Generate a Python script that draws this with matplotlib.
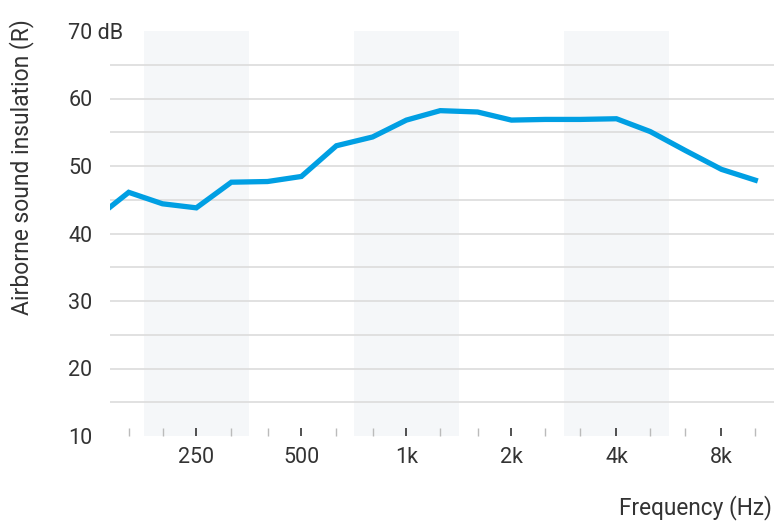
import numpy as np
import matplotlib
matplotlib.use("Agg")
import matplotlib.pyplot as plt

plt.rcParams['font.family'] = ['Roboto', 'DejaVu Sans']

# third-octave band centre frequencies (Hz) and measured insulation R (dB)
freqs = [125, 160, 200, 250, 315, 400, 500, 630, 800, 1000, 1250, 1600,
         2000, 2500, 3150, 4000, 5000, 6300, 8000, 10000]
r_db = [41.7, 46.1, 44.4, 43.8, 47.6, 47.7, 48.45, 53.0, 54.3, 56.8, 58.2, 58.0,
        56.8, 56.9, 56.9, 57.0, 55.1, 52.3, 49.5, 47.9]

octave_ticks = [250, 500, 1000, 2000, 4000, 8000]
octave_labels = ["250", "500", "1k", "2k", "4k", "8k"]
shaded_centres = [250, 1000, 4000]

y_ticks = [10, 20, 30, 40, 50, 60, 70]
y_labels = ["10", "20", "30", "40", "50", "60", "70 dB"]

text_col = "#333333"
blue = "#009FE3"
fs = 15.5

fig = plt.figure(figsize=(7.75, 5.22), dpi=100)
ax = fig.add_axes([110 / 775, 1 - 436 / 522, 664 / 775, 405 / 522])

ax.set_xscale("log")
ax.set_xlim(100 * np.sqrt(2), 8000 * np.sqrt(2))
ax.set_ylim(10, 70)

# alternating octave shading
for c in shaded_centres:
    ax.axvspan(c / np.sqrt(2), c * np.sqrt(2), color="#F5F7F9", zorder=0, lw=0)

# horizontal grid every 5 dB (not at the limits)
for g in range(15, 70, 5):
    ax.axhline(g, color="#DCDCDC", lw=1.2, zorder=1)

ax.plot(freqs, r_db, color=blue, lw=3.8, zorder=3, solid_joinstyle="miter")

for s in ax.spines.values():
    s.set_visible(False)

ax.set_xticks(octave_ticks)
ax.set_xticklabels(octave_labels)
minor = [f for f in freqs[1:] if f not in octave_ticks]
ax.set_xticks(minor, minor=True)
ax.xaxis.set_minor_formatter(matplotlib.ticker.NullFormatter())
ax.tick_params(axis="x", which="major", direction="in", length=6, width=1.2,
               color="#333333", labelsize=fs, labelcolor=text_col, pad=8)
ax.tick_params(axis="x", which="minor", direction="in", length=6, width=1,
               color="#BBBBBB")

ax.set_yticks(y_ticks)
ax.set_yticklabels(y_labels)
ax.tick_params(axis="y", length=0, labelsize=fs, labelcolor=text_col, pad=30)
for lab in ax.get_yticklabels():
    lab.set_horizontalalignment("left")

fig.text(22 / 775, 1 - 19 / 522, "Airborne sound insulation (R)", rotation=90,
         ha="center", va="top", fontsize=16.5, color=text_col)
fig.text(772 / 775, 1 - 508 / 522, "Frequency (Hz)", ha="right", va="center",
         fontsize=16.3, color=text_col)

fig.savefig("out.png", dpi=100)
